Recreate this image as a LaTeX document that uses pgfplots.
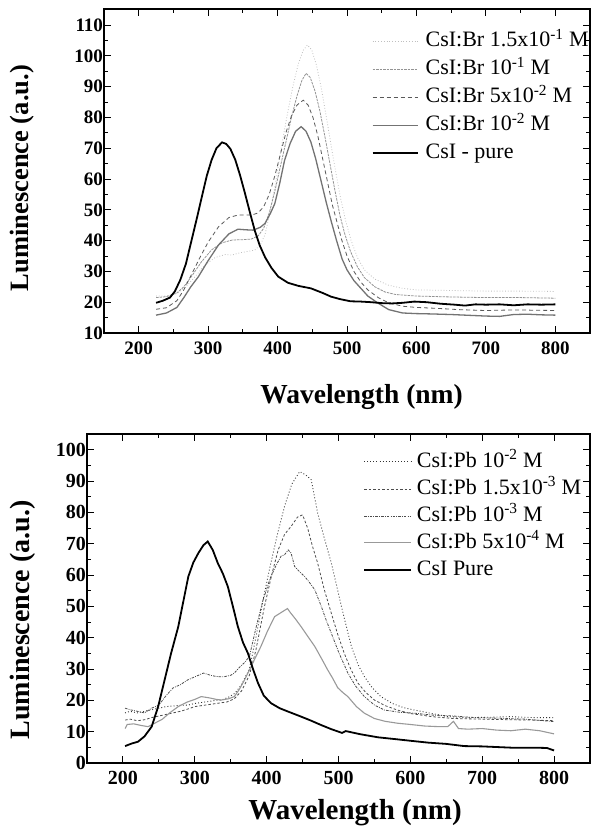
\documentclass[border=0pt]{standalone}
\usepackage{fontspec}
\setmainfont{Liberation Serif}
\usepackage{pgfplots}
\pgfplotsset{compat=1.18}
\pgfplotsset{
 lumstyle/.style={
  scale only axis, xmin=150, xmax=850, xtick={200,300,...,800},
  minor x tick num=1, minor y tick num=1,
  tick align=inside, major tick length=7pt, minor tick length=4pt,
  axis line style={line width=1.1pt},
  tick style={black, line width=0.9pt},
  /pgf/number format/assume math mode=true,
  ticklabel style={font=\fontsize{19}{19}\selectfont\bfseries},
  yticklabel style={xshift=2.5pt},
  xticklabel style={yshift=-5pt},
  legend cell align=left,
  legend style={draw=none, fill=none, anchor=north west, inner sep=0pt, outer sep=0pt,
    nodes={inner sep=0pt, text height=16pt, text depth=5pt, font=\fontsize{22}{27}\selectfont},
    row sep=7pt, column sep=7pt},
  legend image code/.code={\draw[##1] (0pt,0pt) -- (45pt,0pt);},
 }
}
\begin{document}
\begin{tikzpicture}
\path (0pt,0pt) rectangle (591pt,-834pt);
% ---------------- top panel ----------------
\begin{axis}[lumstyle, at={(104pt,-9pt)}, anchor=north west, width=486pt, height=324pt,
  ymin=10, ymax=115.2, ytick={10,20,...,110},
  xlabel={Wavelength (nm)}, ylabel={Luminescence (a.u.)},
  xlabel style={font=\fontsize{27.5}{30}\selectfont\bfseries, at={(axis description cs:0.53,-0.198)}, anchor=center},
  ylabel style={font=\fontsize{26.5}{30}\selectfont\bfseries, at={(axis description cs:-0.168,0.478)}, anchor=center},
  legend style={at={(axis description cs:0.551,0.933)}},
]
\addplot[gray!50, line width=0.8pt, dotted] coordinates {
(225,22)(240,22)(255,22.8)(268,25)(280,28)(295,32)(310,34.5)(325,35.5)(334,35.3)(345,36)(357,36.5)(367,36.9)(375,38.5)(382,42)(390,50)(398,60)(406,71)(414,81)(422,90)(430,97.5)(437,101.8)(443,103.5)(449,102)(456,97)(463,89.5)(470,80.5)(477,71)(484,62)(491,53.5)(498,46.5)(506,40)(515,34.5)(525,30.5)(540,27.5)(560,25.5)(580,24.5)(600,24)(650,23.8)(700,23.6)(750,23.6)(800,23.5)};
\addlegendentry{CsI:Br 1.5x10\textsuperscript{-1} M}
\addplot[gray!85, line width=0.8pt, dash pattern=on 2.5pt off 1pt] coordinates {
(225,21.5)(240,21.8)(255,23)(265,25)(278,29)(290,33)(305,37)(320,39.3)(335,40.2)(350,40.3)(362,40.5)(372,41.5)(380,44)(388,49)(396,56)(404,64)(412,72)(420,80)(428,87)(435,92)(441,94.3)(447,93)(454,88.5)(461,82)(468,74)(475,65.5)(482,57)(490,48)(497,42)(505,36.5)(515,31.5)(525,28)(540,25)(555,23.3)(570,22.5)(600,22)(650,21.7)(700,21.5)(750,21.5)(800,21.3)};
\addlegendentry{CsI:Br 10\textsuperscript{-1} M}
\addplot[black!65, line width=0.8pt, dash pattern=on 4pt off 3pt] coordinates {
(225,17.7)(240,18.2)(255,20.5)(265,24)(275,28.5)(287,34)(300,39.5)(315,44.5)(330,47.5)(343,48.3)(355,48.3)(363,48.3)(372,49)(380,51)(388,55)(396,61)(404,68)(412,75)(420,80.5)(428,84)(437,85.6)(444,84)(451,80)(458,74)(465,66.5)(472,59)(479,51.5)(485,46.5)(492,40.5)(500,35)(510,30)(520,26.5)(530,24)(545,21.5)(560,19.8)(580,18.7)(600,18.3)(630,18)(660,17.6)(700,17.3)(740,17.5)(770,17.4)(800,17.3)};
\addlegendentry{CsI:Br 5x10\textsuperscript{-2} M}
\addplot[black!55, line width=1.3pt] coordinates {
(225,15.8)(240,16.5)(255,18.3)(265,21.5)(275,25)(286,28.3)(300,33.5)(315,38.6)(330,42.2)(343,43.7)(355,43.5)(365,43.4)(375,44.3)(382,45.6)(390,49)(396,52)(403,58.5)(410,66)(418,71.5)(426,75.5)(434,77)(441,75.5)(448,72)(455,66.5)(462,60)(470,52.5)(477,46.5)(485,40)(493,34)(500,30.5)(510,27)(518,25)(530,22)(544,19.8)(560,17.6)(580,16.5)(600,16.3)(620,16.2)(650,16)(680,15.7)(700,15.5)(720,15.4)(740,16)(760,16.1)(780,15.9)(800,15.8)};
\addlegendentry{CsI:Br 10\textsuperscript{-2} M}
\addplot[black, line width=1.8pt] coordinates {
(225,19.8)(235,20.5)(245,21.5)(252,23.5)(260,27.3)(268,32.5)(276,40)(284,47.5)(291,54.3)(298,61)(305,66.2)(312,70)(320,71.9)(326,71.4)(332,69.8)(339,66.3)(346,61.2)(353,55.4)(360,49.3)(367,43.4)(374,38.6)(382,34.6)(391,31.2)(401,28.3)(415,26.3)(430,25.3)(448,24.5)(465,23)(477,21.8)(490,21)(505,20.3)(520,20.2)(535,20)(550,19.7)(565,19.6)(580,19.8)(597,20.2)(615,20)(635,19.5)(655,19.2)(670,18.9)(685,19.3)(700,19.2)(720,19.3)(740,19)(760,19.3)(780,19.2)(800,19.3)};
\addlegendentry{CsI - pure}
\end{axis}
% ---------------- bottom panel ----------------
\begin{axis}[lumstyle, at={(87pt,-434pt)}, anchor=north west, width=503pt, height=329pt,
  ymin=0, ymax=105, ytick={0,10,...,100},
  ticklabel style={font=\fontsize{20}{20}\selectfont\bfseries},
  xlabel={Wavelength (nm)}, ylabel={Luminescence (a.u.)},
  xlabel style={font=\fontsize{29}{32}\selectfont\bfseries, at={(axis description cs:0.533,-0.152)}, anchor=center},
  ylabel style={font=\fontsize{28}{32}\selectfont\bfseries, at={(axis description cs:-0.128,0.435)}, anchor=center},
  legend style={at={(axis description cs:0.549,0.947)}, row sep=6pt, column sep=5pt},
  legend image code/.code={\draw[#1] (0pt,0pt) -- (47pt,0pt);},
]
\addplot[black!80, line width=0.9pt, dash pattern=on 0.9pt off 2.2pt] coordinates {
(203,16)(210,16.5)(220,16)(230,16.5)(240,17)(250,17.5)(260,18)(270,18.2)(280,18.4)(291,18.5)(300,19)(315,19.5)(330,20)(337,20.1)(347,21)(356,22.3)(365,25)(376,30)(385,40)(395,52)(405,63)(415,73)(425,82)(435,89)(446,93)(454,92)(462,90.4)(471,79.8)(480,72)(490,63.8)(497,57)(504,50)(511,43.5)(518,37.2)(527,31.5)(536,27.6)(547,24)(559,21.2)(575,19)(590,17.7)(606,16.9)(630,15.8)(652,14.8)(680,14.5)(710,14.6)(740,14.8)(770,14.5)(800,14.5)};
\addlegendentry{CsI:Pb 10\textsuperscript{-2} M}
\addplot[black!70, line width=0.8pt, dash pattern=on 2.5pt off 2pt] coordinates {
(203,13.7)(210,14)(220,13.5)(230,13.8)(240,14.5)(250,15)(260,15.5)(270,16)(280,16.5)(290,17.2)(300,18)(315,18.5)(330,19)(345,19.5)(355,20.5)(365,23)(376,28)(385,36)(397,50)(407,60)(416,68)(425,73)(434,75.5)(443,78.5)(450,79.2)(457,75)(464,69)(471,63.8)(480,55.5)(490,47.8)(499,41)(508,35)(517,30)(527,25.5)(538,22.5)(550,20.1)(565,18.3)(582,16.9)(600,15.8)(630,14.8)(660,14.2)(700,14)(740,13.8)(770,13.7)(800,13.5)};
\addlegendentry{CsI:Pb 1.5x10\textsuperscript{-3} M}
\addplot[black!70, line width=0.8pt, dash pattern=on 2.5pt off 1.2pt on 0.8pt off 1.2pt] coordinates {
(203,17.5)(210,17)(220,16.5)(230,16)(240,17.5)(250,18.5)(260,21.5)(270,24)(280,25)(290,26.5)(300,27.5)(312,28.7)(322,28)(330,27.6)(340,27.5)(350,28)(355,28.7)(362,30.5)(369,32)(376,34)(385,43)(395,52)(405,59)(413,63)(420,66)(425,66.5)(430,68)(434,67)(439,62.7)(446,61)(453,59.5)(460,57.5)(467,55.3)(476,50)(483,45.5)(490,41.4)(500,35.5)(513,28.7)(524,24.5)(536,21.2)(550,18.5)(564,16.9)(585,16.2)(606,15.9)(630,15.3)(660,15)(690,14.5)(720,14.3)(760,14)(800,13.2)};
\addlegendentry{CsI:Pb 10\textsuperscript{-3} M}
\addplot[gray!80, line width=1.1pt] coordinates {
(203,11)(206,12.3)(215,12.5)(225,12)(235,11.6)(245,12.8)(255,14)(265,16)(277,18)(290,19.5)(300,20.3)(309,21.2)(320,20.8)(330,20.3)(337,20.1)(347,20.5)(355,21.2)(362,23.5)(368,26)(374,28.7)(383,33)(392,37.2)(401,42)(411,46.7)(420,48)(429,49.3)(433,48)(440,46)(448,43.5)(457,40.5)(467,37.2)(476,33.5)(485,29.7)(492,27)(499,24)(506,22.5)(513,21.2)(525,18)(536,15.9)(550,14.2)(565,13.3)(582,12.7)(600,12.3)(620,11.8)(640,11.6)(652,11.6)(660,13.3)(667,11)(680,10.8)(700,11)(720,10.5)(740,10.3)(760,10.8)(780,10.3)(800,9.3)};
\addlegendentry{CsI:Pb 5x10\textsuperscript{-4} M}
\addplot[black, line width=1.8pt] coordinates {
(203,5.4)(212,6.2)(221,6.8)(230,8.5)(240,11.6)(249,18)(258,26.5)(267,35)(277,43.5)(284,51.5)(291,59.5)(298,64)(305,67)(312,69.5)(318,70.7)(325,68)(332,63.8)(339,60.5)(346,56.3)(353,50)(360,43.5)(367,38.5)(374,35)(381,30)(388,25.5)(396,21.5)(406,19.1)(418,17.5)(430,16.4)(448,14.8)(462,13.5)(476,12.1)(490,10.8)(500,10)(505,9.6)(510,10.2)(530,9.2)(555,8.2)(580,7.6)(600,7.1)(625,6.5)(650,6.1)(675,5.4)(700,5.3)(740,4.9)(770,4.9)(790,4.8)(800,4.0)};
\addlegendentry{CsI Pure}
\end{axis}
\end{tikzpicture}
\end{document}
